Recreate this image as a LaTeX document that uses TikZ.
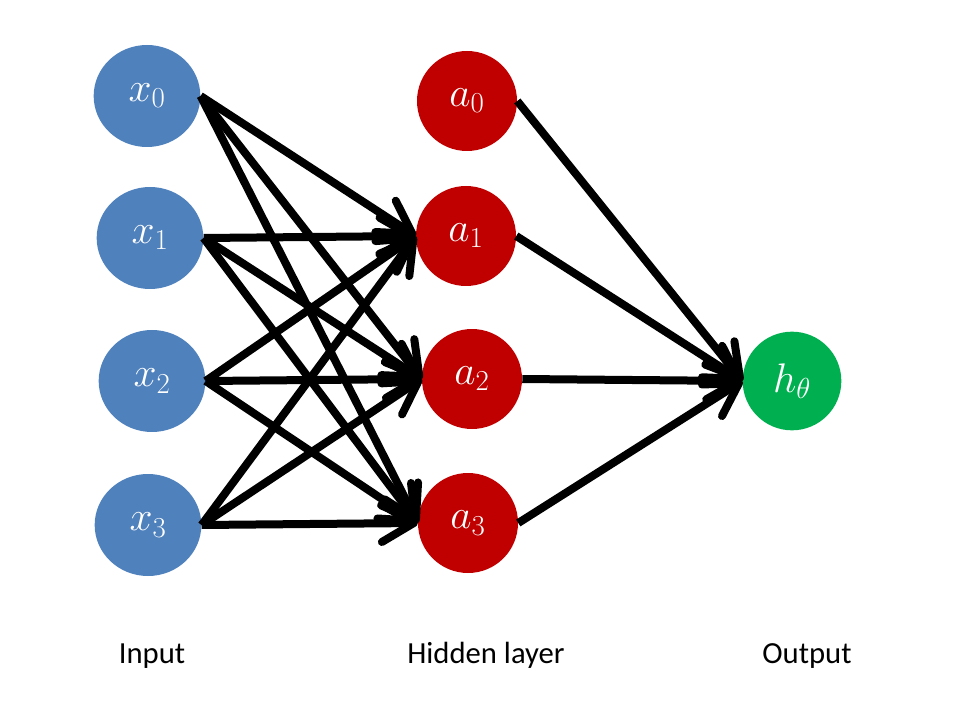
\RequirePackage{fix-cm}
\documentclass[tikz,border=0pt]{standalone}
\usepackage[no-math]{fontspec}
\setmainfont{Carlito}
\usepackage{tikz}
\usetikzlibrary{shapes.geometric,arrows.meta}

\definecolor{inblue}{HTML}{4F81BD}
\definecolor{hidred}{HTML}{C00000}
\definecolor{outgreen}{HTML}{00B050}

\tikzset{
    unit/.style={inner sep=0pt, text=white, font=\fontsize{31}{34}\selectfont},
    innode/.style={unit, ellipse, fill=inblue, minimum width=80pt, minimum height=76.5pt},
    hidnode/.style={unit, circle, fill=hidred, minimum size=75pt},
    outnode/.style={unit, circle, fill=outgreen, minimum size=74pt},
    link/.style={line width=6pt, -{Straight Barb[length=24pt, width=28pt, round]}},
    caption/.style={anchor=base, font=\fontsize{23}{27}\selectfont}
}

\begin{document}
\begin{tikzpicture}[x=0.75pt, y=-0.75pt]
    \useasboundingbox (0,0) rectangle (960,720);

    % Input layer
    \foreach \n/\px/\py in {0/147/96, 1/150/238, 2/152/381, 3/148/525}
        \node[innode] (x\n) at (\px,\py) {$x_\n$};

    % Hidden layer
    \foreach \n/\px/\py in {0/467/101, 1/466/236, 2/472/379, 3/468/523}
        \node[hidnode] (a\n) at (\px,\py) {$a_\n$};

    % Output
    \node[outnode] (h) at (792,381) {$h_\theta$};

    % Connections
    \foreach \i in {0,...,3}
        \foreach \j in {1,2,3}
            \draw[link] (x\i.east) -- (a\j.west);
    \foreach \j in {0,...,3}
        \draw[link] (a\j.east) -- (h.west);

    \node[caption] (inlabel) at (152,663) {Input};
    \node[caption] (hidlabel) at (486,663) {Hidden layer};
    \node[caption] (outlabel) at (807,663) {Output};
\end{tikzpicture}
\end{document}
